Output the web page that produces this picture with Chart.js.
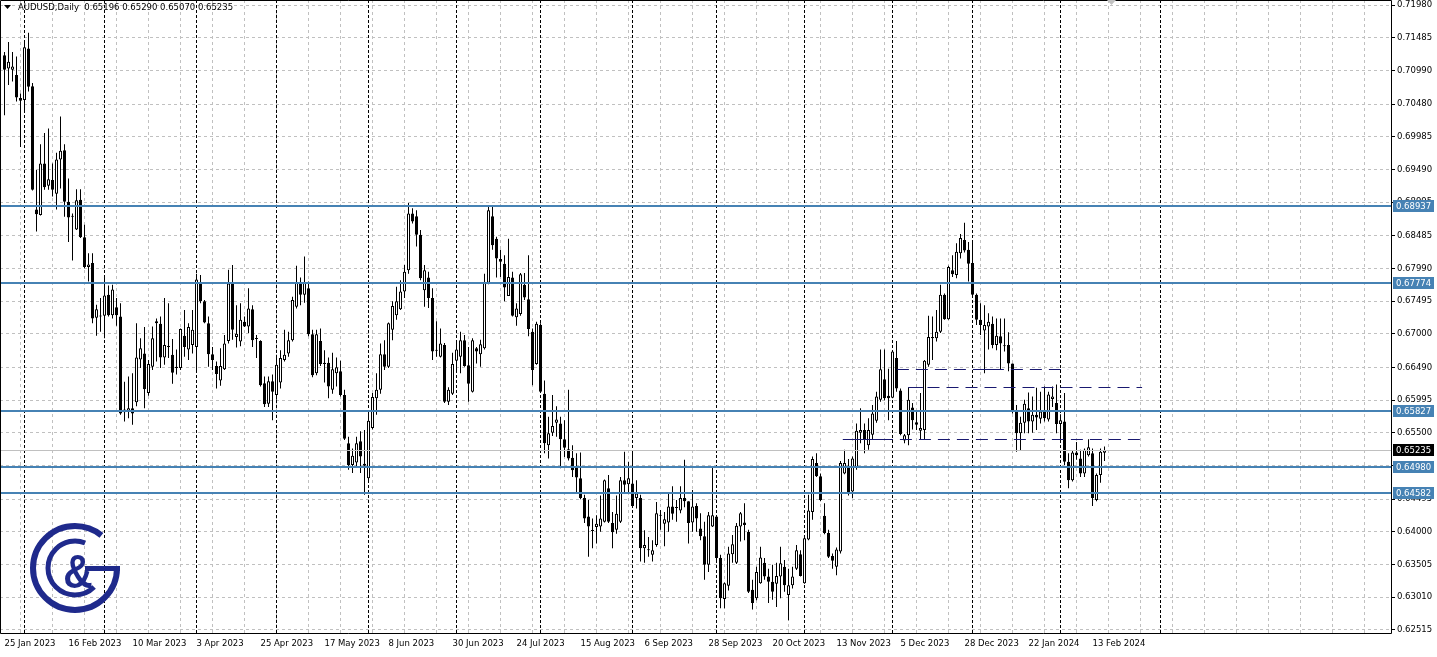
<!DOCTYPE html>
<html>
<head>
<meta charset="utf-8">
<script src="https://cdn.jsdelivr.net/npm/chart.js@4.4.1/dist/chart.umd.min.js"></script>
<style>
html, body { margin: 0; padding: 0; background: #fff; overflow: hidden; }
</style>
</head>
<body>
<canvas id="chartCanvas" width="1437" height="657"></canvas>
<script>
// AUDUSD daily candles, 25 Jan 2023 .. 16 Feb 2024
const opens = [
  0.7122,0.7102,0.7100,0.7092,0.7057,0.7054,0.7132,0.7075,0.6888,0.6880,0.6958,0.6924,0.6933,0.6912,0.6964,0.6978,0.6900,0.6877,0.6858,0.6903,
  0.6846,0.6801,0.6807,0.6724,0.6727,0.6727,0.6759,0.6728,0.6740,0.6726,0.6581,0.6583,0.6587,0.6596,0.6661,0.6670,0.6610,0.6650,0.6719,0.6715,
  0.6664,0.6681,0.6668,0.6650,0.6648,0.6697,0.6676,0.6683,0.6680,0.6777,0.6749,0.6716,0.6669,0.6651,0.6629,0.6646,0.6689,0.6776,0.6695,0.6688,
  0.6718,0.6711,0.6737,0.6693,0.6689,0.6625,0.6594,0.6628,0.6607,0.6626,0.6660,0.6670,0.6690,0.6741,0.6777,0.6759,0.6769,0.6699,0.6640,0.6689,
  0.6654,0.6656,0.6615,0.6640,0.6643,0.6607,0.6534,0.6501,0.6505,0.6537,0.6503,0.6481,0.6557,0.6602,0.6615,0.6669,0.6650,0.6706,0.6728,0.6737,
  0.6764,0.6796,0.6882,0.6878,0.6850,0.6766,0.6785,0.6754,0.6675,0.6665,0.6683,0.6597,0.6609,0.6659,0.6665,0.6690,0.6652,0.6612,0.6678,0.6669,
  0.6678,0.6777,0.6878,0.6844,0.6813,0.6806,0.6757,0.6785,0.6725,0.6730,0.6774,0.6752,0.6703,0.6654,0.6713,0.6609,0.6531,0.6550,0.6565,0.6564,
  0.6540,0.6525,0.6512,0.6499,0.6481,0.6451,0.6423,0.6402,0.6407,0.6408,0.6415,0.6466,0.6413,0.6403,0.6415,0.6478,0.6472,0.6473,0.6451,0.6451,
  0.6375,0.6372,0.6365,0.6380,0.6424,0.6412,0.6414,0.6438,0.6436,0.6432,0.6451,0.6446,0.6414,0.6439,0.6405,0.6393,0.6350,0.6408,0.6423,0.6360,
  0.6298,0.6318,0.6366,0.6353,0.6408,0.6414,0.6400,0.6312,0.6299,0.6322,0.6353,0.6332,0.6324,0.6321,0.6332,0.6347,0.6304,0.6319,0.6344,0.6366,
  0.6322,0.6388,0.6430,0.6504,0.6484,0.6424,0.6398,0.6363,0.6347,0.6370,0.6488,0.6500,0.6461,0.6498,0.6550,0.6554,0.6531,0.6547,0.6568,0.6600,
  0.6631,0.6606,0.6603,0.6663,0.6614,0.6538,0.6546,0.6588,0.6566,0.6553,0.6554,0.6653,0.6693,0.6693,0.6703,0.6759,0.6722,0.6796,0.6789,0.6822,
  0.6842,0.6827,0.6807,0.6759,0.6721,0.6705,0.6711,0.6715,0.6683,0.6696,0.6681,0.6683,0.6655,0.6582,0.6549,0.6565,0.6587,0.6567,0.6577,0.6571,
  0.6582,0.6570,0.6601,0.6595,0.6563,0.6567,0.6506,0.6478,0.6520,0.6511,0.6488,0.6516,0.6519,0.6448,0.6486,0.65196
];
const highs = [
  0.7127,0.7142,0.7127,0.7120,0.7064,0.7142,0.7156,0.7080,0.6948,0.6987,0.7004,0.7011,0.6958,0.6974,0.7029,0.6987,0.6935,0.6882,0.6919,0.6919,
  0.6865,0.6822,0.6822,0.6744,0.6754,0.6785,0.6773,0.6774,0.6754,0.6746,0.6627,0.6635,0.6640,0.6716,0.6693,0.6710,0.6660,0.6711,0.6723,0.6726,
  0.6754,0.6746,0.6692,0.6676,0.6708,0.6736,0.6716,0.6736,0.6791,0.6789,0.6751,0.6726,0.6680,0.6658,0.6678,0.6698,0.6797,0.6804,0.6743,0.6746,
  0.6726,0.6769,0.6743,0.6698,0.6690,0.6635,0.6635,0.6638,0.6663,0.6675,0.6706,0.6703,0.6756,0.6803,0.6785,0.6817,0.6779,0.6706,0.6706,0.6708,
  0.6675,0.6664,0.6671,0.6664,0.6659,0.6615,0.6544,0.6526,0.6544,0.6552,0.6554,0.6582,0.6610,0.6640,0.6685,0.6690,0.6717,0.6749,0.6771,0.6781,
  0.6804,0.6898,0.6890,0.6887,0.6857,0.6804,0.6794,0.6769,0.6719,0.6708,0.6686,0.6619,0.6671,0.6690,0.6703,0.6698,0.6680,0.6693,0.6680,0.6691,
  0.6791,0.6893,0.6893,0.6847,0.6827,0.6819,0.6844,0.6794,0.6746,0.6792,0.6792,0.6819,0.6708,0.6718,0.6716,0.6629,0.6574,0.6607,0.6590,0.6574,
  0.6569,0.6615,0.6531,0.6519,0.6520,0.6456,0.6448,0.6420,0.6425,0.6455,0.6479,0.6486,0.6430,0.6455,0.6483,0.6521,0.6506,0.6521,0.6478,0.6456,
  0.6402,0.6392,0.6387,0.6445,0.6433,0.6430,0.6458,0.6469,0.6448,0.6469,0.6509,0.6446,0.6463,0.6443,0.6428,0.6415,0.6430,0.6499,0.6423,0.6365,
  0.6323,0.6377,0.6395,0.6413,0.6430,0.6443,0.6403,0.6327,0.6347,0.6377,0.6360,0.6344,0.6350,0.6353,0.6377,0.6357,0.6344,0.6347,0.6380,0.6372,
  0.6393,0.6456,0.6514,0.6519,0.6488,0.6443,0.6403,0.6367,0.6376,0.6507,0.6524,0.6510,0.6514,0.6564,0.6587,0.6564,0.6572,0.6592,0.6612,0.6676,
  0.6676,0.6647,0.6675,0.6689,0.6617,0.6548,0.6619,0.6595,0.6584,0.6610,0.6660,0.6727,0.6726,0.6736,0.6774,0.6761,0.6803,0.6819,0.6837,0.6851,
  0.6868,0.6839,0.6842,0.6761,0.6746,0.6743,0.6731,0.6726,0.6723,0.6723,0.6723,0.6702,0.6655,0.6592,0.6574,0.6600,0.6611,0.6605,0.6618,0.6612,
  0.6620,0.6612,0.6620,0.6623,0.6578,0.6610,0.6519,0.6523,0.6536,0.6524,0.6526,0.6540,0.6526,0.6488,0.6526,0.65290
];
const lows = [
  0.7031,0.7077,0.7082,0.7052,0.6983,0.7039,0.7067,0.6917,0.6855,0.6879,0.6918,0.6918,0.6908,0.6888,0.6920,0.6877,0.6839,0.6811,0.6857,0.6845,
  0.6799,0.6779,0.6716,0.6697,0.6703,0.6693,0.6726,0.6723,0.6712,0.6577,0.6567,0.6572,0.6562,0.6590,0.6648,0.6587,0.6606,0.6645,0.6658,0.6648,
  0.6653,0.6663,0.6624,0.6638,0.6645,0.6665,0.6660,0.6670,0.6645,0.6746,0.6716,0.6650,0.6645,0.6617,0.6621,0.6645,0.6685,0.6691,0.6679,0.6681,
  0.6710,0.6701,0.6680,0.6663,0.6620,0.6589,0.6589,0.6569,0.6600,0.6617,0.6658,0.6665,0.6688,0.6738,0.6743,0.6747,0.6696,0.6634,0.6637,0.6651,
  0.6626,0.6602,0.6609,0.6620,0.6605,0.6539,0.6494,0.6489,0.6499,0.6489,0.6456,0.6478,0.6555,0.6577,0.6609,0.6645,0.6648,0.6690,0.6721,0.6736,
  0.6754,0.6791,0.6867,0.6832,0.6781,0.6741,0.6739,0.6660,0.6665,0.6664,0.6595,0.6592,0.6607,0.6643,0.6640,0.6650,0.6597,0.6611,0.6655,0.6650,
  0.6676,0.6775,0.6827,0.6785,0.6786,0.6749,0.6757,0.6726,0.6712,0.6727,0.6751,0.6696,0.6622,0.6653,0.6610,0.6519,0.6511,0.6545,0.6544,0.6496,
  0.6513,0.6508,0.6483,0.6458,0.6449,0.6413,0.6362,0.6375,0.6382,0.6400,0.6414,0.6413,0.6375,0.6397,0.6413,0.6458,0.6458,0.6438,0.6435,0.6355,
  0.6353,0.6362,0.6355,0.6377,0.6403,0.6378,0.6400,0.6418,0.6415,0.6428,0.6437,0.6382,0.6400,0.6400,0.6387,0.6327,0.6339,0.6407,0.6357,0.6284,
  0.6284,0.6311,0.6353,0.6351,0.6385,0.6387,0.6307,0.6282,0.6296,0.6321,0.6327,0.6292,0.6297,0.6286,0.6299,0.6309,0.6266,0.6314,0.6342,0.6332,
  0.6321,0.6387,0.6418,0.6483,0.6446,0.6396,0.6360,0.6344,0.6334,0.6367,0.6487,0.6455,0.6451,0.6494,0.6534,0.6519,0.6524,0.6539,0.6565,0.6597,
  0.6599,0.6569,0.6602,0.6612,0.6546,0.6534,0.6531,0.6555,0.6554,0.6539,0.6539,0.6650,0.6660,0.6688,0.6701,0.6721,0.6721,0.6786,0.6784,0.6814,
  0.6823,0.6779,0.6756,0.6713,0.6698,0.6640,0.6676,0.6678,0.6675,0.6645,0.6673,0.6643,0.6579,0.6521,0.6523,0.6549,0.6549,0.6550,0.6554,0.6564,
  0.6567,0.6567,0.6589,0.6549,0.6539,0.6501,0.6466,0.6476,0.6509,0.6483,0.6483,0.6514,0.6439,0.6446,0.6474,0.65070
];
const closes = [
  0.7100,0.7112,0.7105,0.7058,0.7053,0.7134,0.7074,0.6918,0.6881,0.6958,0.6922,0.6934,0.6918,0.6964,0.6977,0.6900,0.6876,0.6877,0.6902,0.6846,
  0.6801,0.6805,0.6723,0.6737,0.6726,0.6758,0.6728,0.6767,0.6728,0.6579,0.6585,0.6587,0.6579,0.6664,0.6678,0.6616,0.6654,0.6693,0.6716,0.6664,
  0.6683,0.6680,0.6641,0.6648,0.6707,0.6680,0.6710,0.6706,0.6782,0.6749,0.6717,0.6669,0.6660,0.6639,0.6651,0.6685,0.6776,0.6706,0.6700,0.6721,
  0.6711,0.6738,0.6690,0.6692,0.6622,0.6593,0.6628,0.6612,0.6653,0.6663,0.6668,0.6690,0.6751,0.6777,0.6759,0.6777,0.6699,0.6637,0.6699,0.6654,
  0.6656,0.6620,0.6646,0.6649,0.6607,0.6541,0.6501,0.6515,0.6534,0.6514,0.6500,0.6568,0.6604,0.6615,0.6669,0.6650,0.6716,0.6742,0.6749,0.6764,
  0.6794,0.6882,0.6870,0.6850,0.6784,0.6796,0.6754,0.6673,0.6674,0.6685,0.6597,0.6615,0.6654,0.6676,0.6690,0.6651,0.6624,0.6690,0.6673,0.6684,
  0.6777,0.6887,0.6834,0.6814,0.6809,0.6770,0.6786,0.6727,0.6738,0.6790,0.6755,0.6707,0.6645,0.6715,0.6612,0.6534,0.6549,0.6560,0.6570,0.6540,
  0.6527,0.6511,0.6493,0.6482,0.6451,0.6420,0.6408,0.6401,0.6412,0.6420,0.6478,0.6415,0.6399,0.6427,0.6478,0.6471,0.6481,0.6439,0.6458,0.6375,
  0.6380,0.6372,0.6372,0.6428,0.6424,0.6419,0.6438,0.6427,0.6436,0.6451,0.6446,0.6413,0.6438,0.6420,0.6393,0.6350,0.6425,0.6425,0.6360,0.6299,
  0.6322,0.6367,0.6381,0.6409,0.6428,0.6410,0.6309,0.6292,0.6339,0.6361,0.6332,0.6324,0.6309,0.6333,0.6352,0.6319,0.6319,0.6332,0.6372,0.6333,
  0.6390,0.6432,0.6510,0.6484,0.6448,0.6398,0.6362,0.6356,0.6373,0.6504,0.6504,0.6458,0.6511,0.6553,0.6554,0.6540,0.6554,0.6579,0.6605,0.6646,
  0.6602,0.6602,0.6673,0.6617,0.6548,0.6546,0.6600,0.6569,0.6562,0.6557,0.6659,0.6695,0.6695,0.6703,0.6759,0.6722,0.6801,0.6790,0.6824,0.6845,
  0.6826,0.6806,0.6759,0.6721,0.6713,0.6713,0.6718,0.6683,0.6697,0.6685,0.6681,0.6655,0.6582,0.6549,0.6565,0.6594,0.6567,0.6577,0.6573,0.6582,
  0.6572,0.6608,0.6605,0.6563,0.6569,0.6506,0.6478,0.6520,0.6516,0.6488,0.6524,0.6528,0.6451,0.6486,0.6521,0.65235
];

// every 16th bar gets a date label
const tickDates = ['25 Jan 2023', '16 Feb 2023', '10 Mar 2023', '3 Apr 2023', '25 Apr 2023', '17 May 2023',
  '8 Jun 2023', '30 Jun 2023', '24 Jul 2023', '15 Aug 2023', '6 Sep 2023', '28 Sep 2023', '20 Oct 2023',
  '13 Nov 2023', '5 Dec 2023', '28 Dec 2023', '22 Jan 2024', '13 Feb 2024'];
const priceTicks = [0.71980, 0.71485, 0.70990, 0.70480, 0.69985, 0.69490, 0.68995, 0.68485, 0.67990, 0.67495,
  0.67000, 0.66490, 0.65995, 0.65500, 0.65005, 0.64495, 0.64000, 0.63505, 0.63010, 0.62515];
// first bar of each month (period separators)
const monthStarts = [5, 25, 48, 68, 91, 113, 134, 157, 178, 200, 222, 242, 264, 289];
// horizontal support / resistance levels
const levels = [0.68937, 0.67774, 0.65827, 0.64980, 0.64582];
const lastPrice = 0.65235;
// dashed lines drawn on the chart: price, first bar, last bar, end of the solid start
const dashPrices = [0.6646, 0.6619, 0.6540];
const dashFrom = [223.1, 226, 209.6];
const dashTo = [265.9, 284.4, 285.1];
const solidFrom = [245, 226, 209.6];
const solidTo = [249.5, 229.6, 222];
const header = 'AUDUSD,Daily  0.65196 0.65290 0.65070 0.65235';

const axisFont = { family: 'DejaVu Sans', size: 8.5 };
const steel = '#4682b4';
const navy = '#191970';

const wickData = lows.map((l, i) => ({ x: i, y: [l, highs[i]] }));
const bodyData = opens.map((o, i) => ({ x: i, y: [Math.min(o, closes[i]), Math.max(o, closes[i])] }));

// no extra room around the plot for the first/last tick label
function noPadding(s) {
  s.paddingTop = 0;
  s.paddingBottom = 0;
  s.paddingLeft = 0;
  s.paddingRight = 0;
}

const overlay = {
  id: 'overlay',
  beforeDatasetsDraw(chart) {
    const { ctx, chartArea: a, scales: { x } } = chart;
    ctx.save();
    ctx.strokeStyle = '#000';
    ctx.lineWidth = 1;
    ctx.setLineDash([3, 2]);
    monthStarts.forEach(m => {
      const px = Math.round(x.getPixelForValue(m) - 0.5) + 0.5;
      ctx.beginPath();
      ctx.moveTo(px, a.top);
      ctx.lineTo(px, a.bottom);
      ctx.stroke();
    });
    ctx.restore();
  },
  afterDraw(chart) {
    const { ctx, chartArea: a, scales: { x, y } } = chart;
    ctx.save();

    // grey current price line
    const ly = Math.round(y.getPixelForValue(lastPrice)) + 0.5;
    ctx.strokeStyle = '#c0c0c0';
    ctx.lineWidth = 1;
    ctx.beginPath(); ctx.moveTo(a.left, ly); ctx.lineTo(a.right, ly); ctx.stroke();

    // blue levels
    ctx.strokeStyle = steel;
    ctx.lineWidth = 2;
    levels.forEach(p => {
      const py = Math.round(y.getPixelForValue(p));
      ctx.beginPath(); ctx.moveTo(a.left, py); ctx.lineTo(a.right, py); ctx.stroke();
    });

    // navy dashed lines
    ctx.strokeStyle = navy;
    ctx.lineWidth = 1;
    dashPrices.forEach((p, i) => {
      const py = Math.round(y.getPixelForValue(p)) + 0.5;
      ctx.setLineDash([12, 7]);
      ctx.beginPath();
      ctx.moveTo(x.getPixelForValue(dashFrom[i]), py);
      ctx.lineTo(x.getPixelForValue(dashTo[i]), py);
      ctx.stroke();
      ctx.setLineDash([]);
      ctx.beginPath();
      ctx.moveTo(x.getPixelForValue(solidFrom[i]), py);
      ctx.lineTo(x.getPixelForValue(solidTo[i]), py);
      ctx.stroke();
    });

    // chart frame
    ctx.strokeStyle = '#000';
    ctx.beginPath();
    ctx.moveTo(a.left + 0.5, a.top + 0.5);
    ctx.lineTo(a.right + 0.5, a.top + 0.5);
    ctx.lineTo(a.right + 0.5, a.bottom + 0.5);
    ctx.lineTo(a.left + 0.5, a.bottom + 0.5);
    ctx.closePath();
    ctx.stroke();

    // price labels on the right axis
    ctx.font = '8.5px "DejaVu Sans"';
    ctx.textBaseline = 'middle';
    ctx.textAlign = 'left';
    const box = (p, bg) => {
      const py = Math.round(y.getPixelForValue(p));
      ctx.fillStyle = bg;
      ctx.fillRect(a.right + 2, py - 6, 41, 12);
      ctx.fillStyle = '#fff';
      ctx.fillText(p.toFixed(5), a.right + 5, py + 0.5);
    };
    levels.forEach(p => box(p, steel));
    box(lastPrice, '#000');

    // header
    ctx.fillStyle = '#000';
    ctx.beginPath();
    ctx.moveTo(4, 5); ctx.lineTo(11, 5); ctx.lineTo(7.5, 9); ctx.closePath(); ctx.fill();
    ctx.fillText(header, 18, 8);

    // shift marker
    ctx.fillStyle = '#c0c0c0';
    ctx.beginPath();
    ctx.moveTo(1107, 0); ctx.lineTo(1116, 0); ctx.lineTo(1111.5, 5); ctx.closePath(); ctx.fill();

    // logo
    const cx = 75, cy = 568;
    ctx.strokeStyle = '#1f2a8c';
    ctx.fillStyle = '#1f2a8c';
    ctx.lineWidth = 6;
    ctx.beginPath(); ctx.arc(cx, cy, 42, 0, 309 * Math.PI / 180); ctx.stroke();
    ctx.fillRect(cx + 10, cy - 2, 35, 5);
    ctx.lineWidth = 5;
    ctx.beginPath(); ctx.arc(cx, cy, 27, 45 * Math.PI / 180, 292 * Math.PI / 180); ctx.stroke();
    ctx.save();
    ctx.translate(cx + 3, cy + 7);
    ctx.scale(0.85, 1);
    ctx.font = 'bold 48px "Liberation Sans"';
    ctx.textAlign = 'center';
    ctx.textBaseline = 'middle';
    ctx.fillText('&', 0, 0);
    ctx.restore();

    ctx.restore();
  }
};

const ctx = document.getElementById('chartCanvas').getContext('2d');
window.myChart = new Chart(ctx, {
  type: 'bar',
  data: {
    datasets: [
      {
        label: 'body',
        data: bodyData,
        order: 1,
        grouped: false,
        barThickness: 3,
        minBarLength: 1,
        inflateAmount: 0,
        borderWidth: 1,
        borderSkipped: false,
        borderColor: '#000',
        backgroundColor: c => closes[c.dataIndex] >= opens[c.dataIndex] ? '#ffffff' : '#000000'
      },
      {
        label: 'wick',
        data: wickData,
        order: 2,
        grouped: false,
        barThickness: 1,
        minBarLength: 1,
        inflateAmount: 0,
        borderWidth: 0,
        backgroundColor: '#000'
      }
    ]
  },
  options: {
    responsive: false,
    devicePixelRatio: 1,
    animation: false,
    events: [],
    layout: { padding: 0, autoPadding: false },
    plugins: { legend: { display: false }, tooltip: { enabled: false } },
    scales: {
      x: {
        type: 'linear',
        min: -1.125,
        max: 346.625,
        offset: false,
        grid: { color: '#c0c0c0', drawTicks: false },
        border: { display: false, dash: [3, 3] },
        ticks: {
          autoSkip: false,
          maxRotation: 0,
          align: 'start',
          padding: 6,
          color: '#000',
          font: axisFont,
          callback: v => (v % 16 === 0 && v / 16 < tickDates.length) ? tickDates[v / 16] : ''
        },
        afterBuildTicks: s => {
          const t = [];
          for (let v = 0; v <= 344; v += 8) t.push({ value: v });
          s.ticks = t;
        },
        afterFit: s => { s.height = 24; noPadding(s); }
      },
      y: {
        type: 'linear',
        position: 'right',
        min: 0.62465,
        max: 0.72056,
        grid: { color: '#c0c0c0', tickColor: '#000', tickLength: 4, tickBorderDash: [] },
        border: { display: false, dash: [3, 3] },
        ticks: {
          padding: 2,
          color: '#000',
          font: axisFont,
          callback: v => v.toFixed(5)
        },
        afterBuildTicks: s => { s.ticks = priceTicks.map(v => ({ value: v })); },
        afterFit: s => { s.width = 46; noPadding(s); }
      }
    }
  },
  plugins: [overlay]
});
</script>
</body>
</html>
